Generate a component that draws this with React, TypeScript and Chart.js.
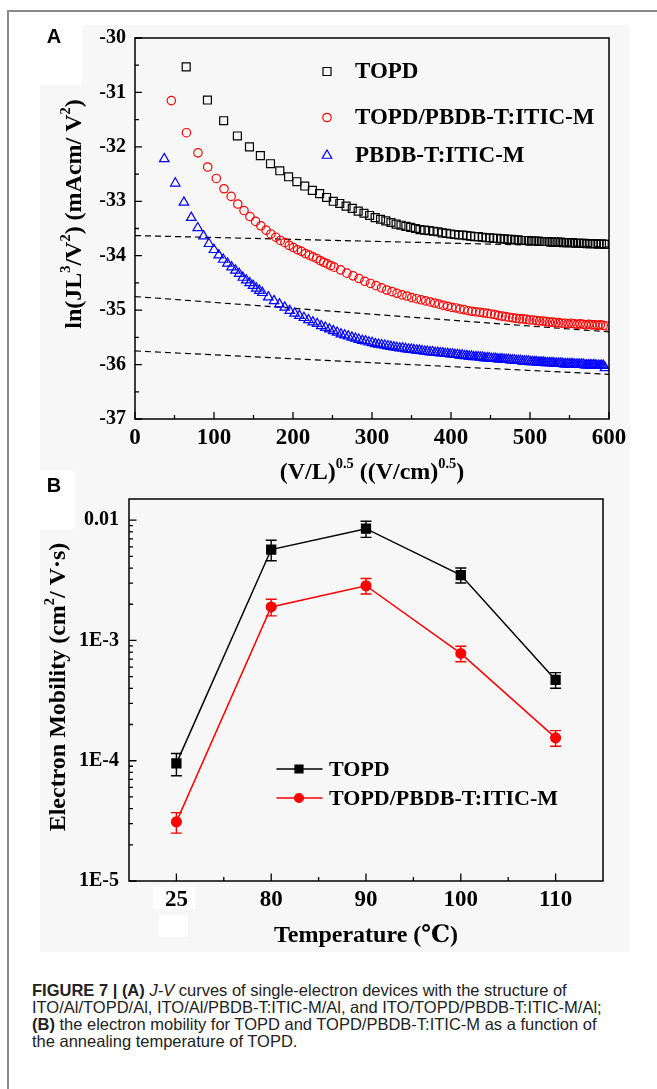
import React, { useEffect, useRef } from 'react';
import { Chart, registerables } from 'chart.js';

Chart.register(...registerables);

const SERIF = '"Liberation Serif", "Times New Roman", "DejaVu Serif", "Noto Sans CJK SC", serif';
const SANS = '"Liberation Sans", Arial, "DejaVu Sans", sans-serif';

// ---------- Panel A : J-V curves ----------
const jvXTicks = [0, 100, 200, 300, 400, 500, 600];
const jvYTicks = [-37, -36, -35, -34, -33, -32, -31, -30];
const jvLegend = ['TOPD', 'TOPD/PBDB-T:ITIC-M', 'PBDB-T:ITIC-M'];

const topdPoints = [
  [64.8, -30.53], [91.7, -31.14], [112.2, -31.52], [129.6, -31.8], [144.9, -32.0], [158.7, -32.16],
  [171.5, -32.31], [183.3, -32.44], [194.4, -32.55], [204.9, -32.64], [214.9, -32.72], [224.5, -32.8],
  [233.7, -32.86], [242.5, -32.93], [251.0, -33.0], [259.2, -33.04], [267.2, -33.09], [275.0, -33.13],
  [282.5, -33.18], [289.8, -33.22], [297.0, -33.26], [304.0, -33.3], [310.8, -33.33], [317.5, -33.36],
  [324.0, -33.39], [330.5, -33.42], [336.7, -33.44], [342.9, -33.46], [349.0, -33.48], [355.0, -33.5],
  [360.8, -33.52], [366.6, -33.53], [372.3, -33.54], [377.9, -33.55], [383.4, -33.56], [388.8, -33.58],
  [394.2, -33.59], [399.5, -33.6], [404.7, -33.61], [409.9, -33.62], [415.0, -33.62], [420.0, -33.63],
  [425.0, -33.64], [429.9, -33.65], [434.7, -33.65], [439.5, -33.66], [444.3, -33.67], [449.0, -33.67],
  [453.6, -33.68], [458.3, -33.68], [462.8, -33.69], [467.3, -33.69], [471.8, -33.7], [476.2, -33.7],
  [480.6, -33.71], [485.0, -33.71], [489.3, -33.72], [493.6, -33.72], [497.8, -33.72], [502.0, -33.73],
  [506.2, -33.73], [510.3, -33.73], [514.4, -33.74], [518.5, -33.74], [522.5, -33.74], [526.5, -33.75],
  [530.5, -33.75], [534.4, -33.75], [538.3, -33.75], [542.2, -33.76], [546.1, -33.76], [549.9, -33.76],
  [553.7, -33.76], [557.5, -33.77], [561.2, -33.77], [565.0, -33.77], [568.7, -33.77], [572.4, -33.78],
  [576.0, -33.78], [579.7, -33.78], [583.3, -33.78], [586.9, -33.79], [590.4, -33.78], [594.0, -33.79],
  [597.5, -33.79],
];

const blendPoints = [
  [46.0, -31.15], [65.1, -31.74], [79.7, -32.11], [92.0, -32.37], [102.9, -32.58], [112.7, -32.77],
  [121.7, -32.91], [130.1, -33.05], [138.0, -33.17], [145.5, -33.28], [152.6, -33.37], [159.3, -33.45],
  [165.9, -33.53], [172.1, -33.6], [178.2, -33.66], [184.0, -33.72], [189.7, -33.76], [195.2, -33.81],
  [200.5, -33.85], [205.7, -33.89], [210.8, -33.92], [215.8, -33.96], [220.6, -33.99], [225.4, -34.02],
  [230.0, -34.05], [234.6, -34.09], [239.0, -34.12], [243.4, -34.15], [247.7, -34.18], [252.0, -34.21],
  [260.2, -34.26], [268.2, -34.32], [276.0, -34.37], [283.6, -34.42], [290.9, -34.47], [298.1, -34.51],
  [305.1, -34.55], [312.0, -34.59], [318.7, -34.63], [325.3, -34.66], [331.7, -34.69], [338.0, -34.72],
  [344.2, -34.74], [350.3, -34.77], [356.3, -34.79], [362.2, -34.81], [368.0, -34.83], [373.7, -34.85],
  [379.3, -34.87], [384.9, -34.89], [390.3, -34.91], [395.7, -34.93], [401.0, -34.95], [406.3, -34.96],
  [411.4, -34.98], [416.5, -34.99], [421.6, -35.01], [426.6, -35.02], [431.5, -35.03], [436.4, -35.04],
  [441.2, -35.05], [446.0, -35.06], [450.7, -35.07], [455.4, -35.08], [460.0, -35.1], [464.6, -35.11],
  [469.1, -35.12], [473.6, -35.13], [478.0, -35.14], [482.5, -35.15], [486.8, -35.16], [491.1, -35.16],
  [495.4, -35.17], [499.7, -35.18], [503.9, -35.18], [508.1, -35.19], [512.2, -35.2], [516.4, -35.2],
  [520.4, -35.21], [524.5, -35.22], [528.5, -35.22], [532.5, -35.23], [536.4, -35.23], [540.4, -35.24],
  [544.3, -35.24], [548.2, -35.25], [552.0, -35.24], [555.8, -35.25], [559.6, -35.26], [563.4, -35.25],
  [567.1, -35.26], [570.8, -35.27], [574.5, -35.26], [578.2, -35.27], [581.9, -35.27], [585.5, -35.28],
  [589.1, -35.27], [592.7, -35.28], [596.2, -35.29],
];

const pbdbPoints = [
  [37.0, -32.22], [51.0, -32.67], [61.9, -33.02], [71.2, -33.3], [79.4, -33.49], [86.8, -33.64],
  [93.6, -33.78], [100.0, -33.89], [106.0, -33.99], [111.7, -34.07], [117.0, -34.14], [122.2, -34.21],
  [127.1, -34.27], [131.9, -34.33], [136.5, -34.4], [140.9, -34.45], [145.2, -34.5], [149.4, -34.55],
  [153.5, -34.6], [157.5, -34.64], [161.3, -34.68], [168.8, -34.76], [176.0, -34.83], [182.8, -34.89],
  [189.5, -34.95], [195.9, -35.01], [202.1, -35.06], [208.1, -35.1], [213.9, -35.14], [219.6, -35.18],
  [225.1, -35.22], [230.6, -35.25], [235.8, -35.29], [241.0, -35.32], [246.1, -35.35], [251.0, -35.38],
  [255.9, -35.41], [260.7, -35.44], [265.4, -35.46], [270.0, -35.48], [274.5, -35.5], [279.0, -35.52],
  [283.3, -35.54], [287.7, -35.56], [291.9, -35.57], [296.1, -35.59], [300.2, -35.6], [304.3, -35.62],
  [308.3, -35.63], [312.3, -35.64], [316.2, -35.65], [320.1, -35.66], [323.9, -35.67], [327.7, -35.68],
  [331.5, -35.69], [335.2, -35.7], [338.8, -35.7], [342.5, -35.71], [346.0, -35.72], [349.6, -35.72],
  [353.1, -35.73], [356.6, -35.74], [360.0, -35.74], [363.4, -35.75], [366.8, -35.76], [370.1, -35.76],
  [373.5, -35.77], [376.7, -35.77], [380.0, -35.78], [383.2, -35.78], [386.4, -35.79], [389.6, -35.79],
  [392.8, -35.8], [395.9, -35.8], [399.0, -35.81], [402.1, -35.81], [405.1, -35.82], [408.2, -35.82],
  [411.2, -35.83], [414.2, -35.83], [417.1, -35.84], [420.1, -35.84], [423.0, -35.85], [425.9, -35.85],
  [428.8, -35.86], [431.6, -35.86], [434.5, -35.86], [437.3, -35.87], [440.1, -35.87], [442.9, -35.88],
  [445.7, -35.88], [448.5, -35.88], [451.2, -35.89], [453.9, -35.89], [456.6, -35.89], [459.3, -35.9],
  [462.0, -35.9], [464.7, -35.9], [467.3, -35.91], [469.9, -35.91], [472.6, -35.91], [475.2, -35.92],
  [477.7, -35.92], [480.3, -35.92], [482.9, -35.93], [485.4, -35.93], [488.0, -35.93], [490.5, -35.94],
  [493.0, -35.94], [495.5, -35.94], [498.0, -35.94], [500.4, -35.95], [502.9, -35.95], [505.3, -35.95],
  [507.8, -35.95], [510.2, -35.96], [512.6, -35.96], [515.0, -35.96], [517.4, -35.96], [519.8, -35.97],
  [522.1, -35.97], [524.5, -35.97], [526.8, -35.97], [529.2, -35.97], [531.5, -35.98], [533.8, -35.98],
  [536.1, -35.98], [538.4, -35.98], [540.7, -35.98], [543.0, -35.99], [545.2, -35.99], [547.5, -35.99],
  [549.7, -35.99], [552.0, -35.99], [554.2, -35.99], [556.4, -36.0], [558.6, -36.0], [560.8, -36.0],
  [563.0, -36.0], [565.2, -36.0], [567.4, -36.0], [569.6, -36.01], [571.7, -36.01], [573.9, -36.01],
  [576.0, -36.01], [578.2, -36.01], [580.3, -36.01], [582.4, -36.01], [584.5, -36.02], [586.6, -36.02],
  [588.7, -36.02], [590.8, -36.02], [592.9, -36.02], [595.0, -36.06],
];

const fitTopd = [[0, -33.63], [600, -33.84]];
const fitBlend = [[0, -34.75], [600, -35.4]];
const fitPbdb = [[0, -35.75], [600, -36.18]];

// ---------- Panel B : electron mobility ----------
const temps = ['25', '80', '90', '100', '110'];
const topdMobility = [9.5e-5, 5.7e-3, 8.5e-3, 3.5e-3, 4.7e-4];
const topdMobilityErr = [2.0e-5, 1.1e-3, 1.3e-3, 5.0e-4, 7.0e-5];
const blendMobility = [3.1e-5, 1.9e-3, 2.85e-3, 7.8e-4, 1.55e-4];
const blendMobilityErr = [6e-6, 3.0e-4, 4.2e-4, 1.15e-4, 2.3e-5];
const mobilityTicks = [1e-5, 1e-4, 1e-3, 1e-2];
const mobilityTickLabels = ['1E-5', '1E-4', '1E-3', '0.01'];
const mobilityLegend = ['TOPD', 'TOPD/PBDB-T:ITIC-M'];

// ---------- helpers ----------
type Part = { t: string; sup?: boolean };

function drawRich(ctx: CanvasRenderingContext2D, parts: Part[], cx: number, cy: number, size: number, rotate: boolean) {
  ctx.save();
  ctx.translate(cx, cy);
  if (rotate) ctx.rotate(-Math.PI / 2);
  const font = (s: number) => `bold ${s}px ${SERIF}`;
  let total = 0;
  for (const p of parts) {
    ctx.font = font(p.sup ? size * 0.6 : size);
    total += ctx.measureText(p.t).width;
  }
  let x = -total / 2;
  ctx.textBaseline = 'middle';
  ctx.textAlign = 'left';
  ctx.fillStyle = '#000';
  for (const p of parts) {
    const s = p.sup ? size * 0.6 : size;
    ctx.font = font(s);
    ctx.fillText(p.t, x, p.sup ? -size * 0.36 : 0);
    x += ctx.measureText(p.t).width;
  }
  ctx.restore();
}

function drawMarker(ctx: CanvasRenderingContext2D, kind: string, x: number, y: number, color: string, filled: boolean, r: number) {
  ctx.save();
  ctx.strokeStyle = color;
  ctx.fillStyle = color;
  ctx.lineWidth = 1.2;
  ctx.beginPath();
  if (kind === 'rect') {
    ctx.rect(x - r, y - r, 2 * r, 2 * r);
  } else if (kind === 'circle') {
    ctx.arc(x, y, r, 0, Math.PI * 2);
  } else {
    ctx.moveTo(x, y - r);
    ctx.lineTo(x + r * 0.866, y + r * 0.5);
    ctx.lineTo(x - r * 0.866, y + r * 0.5);
    ctx.closePath();
  }
  if (filled) ctx.fill();
  ctx.stroke();
  ctx.restore();
}

const toXY = (pts: number[][]) => pts.map(([x, y]) => ({ x, y }));

const xTitleA: Part[] = [{ t: '(V/L)' }, { t: '0.5', sup: true }, { t: ' ((V/cm)' }, { t: '0.5', sup: true }, { t: ')' }];
const yTitleA: Part[] = [{ t: 'ln(JL' }, { t: '3', sup: true }, { t: '/V' }, { t: '2', sup: true }, { t: ') (mAcm/ V' }, { t: '2', sup: true }, { t: ')' }];
const xTitleB: Part[] = [{ t: 'Temperature (\u2103)' }];
const yTitleB: Part[] = [{ t: 'Electron Mobility (cm' }, { t: '2', sup: true }, { t: '/ V\u00b7s)' }];

const panelAPlugin = {
  id: 'panelA',
  afterDraw(chart: any) {
    const { ctx, chartArea: a } = chart;
    const xs = chart.scales.x;
    const ys = chart.scales.y;
    ctx.save();
    ctx.strokeStyle = '#000';
    ctx.lineWidth = 1.5;
    ctx.strokeRect(a.left, a.top, a.right - a.left, a.bottom - a.top);
    ctx.lineWidth = 1.3;
    ctx.beginPath();
    jvXTicks.forEach((v, i) => {
      const px = xs.getPixelForValue(v);
      ctx.moveTo(px, a.bottom);
      ctx.lineTo(px, a.bottom - 7);
      if (i < jvXTicks.length - 1) {
        const mx = xs.getPixelForValue((v + jvXTicks[i + 1]) / 2);
        ctx.moveTo(mx, a.bottom);
        ctx.lineTo(mx, a.bottom - 4);
      }
    });
    jvYTicks.forEach((v, i) => {
      const py = ys.getPixelForValue(v);
      ctx.moveTo(a.left, py);
      ctx.lineTo(a.left + 7, py);
      if (i < jvYTicks.length - 1) {
        const my = ys.getPixelForValue((v + jvYTicks[i + 1]) / 2);
        ctx.moveTo(a.left, my);
        ctx.lineTo(a.left + 4, my);
      }
    });
    ctx.stroke();

    // legend
    const lx = a.left + 192;
    const rows = [a.top + 33.5, a.top + 79.5, a.top + 117.5];
    drawMarker(ctx, 'rect', lx, rows[0], '#000', false, 4);
    drawMarker(ctx, 'circle', lx, rows[1], '#ff0000', false, 4.2);
    drawMarker(ctx, 'triangle', lx, rows[2], '#0000ff', false, 5.5);
    ctx.font = `bold 23px ${SERIF}`;
    ctx.fillStyle = '#000';
    ctx.textAlign = 'left';
    ctx.textBaseline = 'middle';
    jvLegend.forEach((t, i) => ctx.fillText(t, a.left + 220, rows[i] + 1));

    drawRich(ctx, xTitleA, (a.left + a.right) / 2, 473, 24, false);
    drawRich(ctx, yTitleA, 75, 214, 24, true);

    ctx.font = `bold 20px ${SANS}`;
    ctx.textAlign = 'center';
    ctx.textBaseline = 'middle';
    ctx.fillStyle = '#000';
    ctx.fillText('A', 54, 37);
    ctx.restore();
  },
};

const panelBPlugin = {
  id: 'panelB',
  beforeDatasetsDraw(chart: any) {
    const { ctx } = chart;
    const xs = chart.scales.x;
    const ys = chart.scales.y;
    const sets = [
      { v: topdMobility, e: topdMobilityErr, c: '#000' },
      { v: blendMobility, e: blendMobilityErr, c: '#ff0000' },
    ];
    ctx.save();
    ctx.lineWidth = 1.4;
    for (const s of sets) {
      ctx.strokeStyle = s.c;
      ctx.beginPath();
      s.v.forEach((v, i) => {
        const px = xs.getPixelForValue(i);
        const y1 = ys.getPixelForValue(v + s.e[i]);
        const y2 = ys.getPixelForValue(v - s.e[i]);
        ctx.moveTo(px, y1);
        ctx.lineTo(px, y2);
        ctx.moveTo(px - 5.5, y1);
        ctx.lineTo(px + 5.5, y1);
        ctx.moveTo(px - 5.5, y2);
        ctx.lineTo(px + 5.5, y2);
      });
      ctx.stroke();
    }
    ctx.restore();
  },
  afterDraw(chart: any) {
    const { ctx, chartArea: a } = chart;
    const xs = chart.scales.x;
    const ys = chart.scales.y;
    ctx.save();
    ctx.strokeStyle = '#000';
    ctx.lineWidth = 1.5;
    ctx.strokeRect(a.left, a.top, a.right - a.left, a.bottom - a.top);
    ctx.lineWidth = 1.3;
    ctx.beginPath();
    temps.forEach((_, i) => {
      const px = xs.getPixelForValue(i);
      ctx.moveTo(px, a.bottom);
      ctx.lineTo(px, a.bottom - 7.5);
      if (i < temps.length - 1) {
        const mx = xs.getPixelForValue(i + 0.5);
        ctx.moveTo(mx, a.bottom);
        ctx.lineTo(mx, a.bottom - 4);
      }
    });
    mobilityTicks.forEach((d) => {
      const py = ys.getPixelForValue(d);
      ctx.moveTo(a.left, py);
      ctx.lineTo(a.left + 7.5, py);
      for (let m = 2; m <= 9; m++) {
        const v = d * m;
        if (v > ys.max) break;
        const my = ys.getPixelForValue(v);
        ctx.moveTo(a.left, my);
        ctx.lineTo(a.left + 4, my);
      }
    });
    ctx.stroke();

    // legend
    const rows = [a.top + 270, a.top + 299];
    const colors = ['#000', '#ff0000'];
    rows.forEach((ry, i) => {
      ctx.strokeStyle = colors[i];
      ctx.lineWidth = 1.5;
      ctx.beginPath();
      ctx.moveTo(a.left + 147.5, ry);
      ctx.lineTo(a.left + 193.5, ry);
      ctx.stroke();
    });
    drawMarker(ctx, 'rect', a.left + 170, rows[0], '#000', true, 4);
    drawMarker(ctx, 'circle', a.left + 170, rows[1], '#ff0000', true, 4.5);
    ctx.font = `bold 22px ${SERIF}`;
    ctx.fillStyle = '#000';
    ctx.textAlign = 'left';
    ctx.textBaseline = 'middle';
    mobilityLegend.forEach((t, i) => ctx.fillText(t, a.left + 200, rows[i] + 1));

    drawRich(ctx, xTitleB, (a.left + a.right) / 2, 466, 24, false);
    drawRich(ctx, yTitleB, 59, 217, 24, true);

    ctx.font = `bold 20px ${SANS}`;
    ctx.textAlign = 'center';
    ctx.textBaseline = 'middle';
    ctx.fillStyle = '#000';
    ctx.fillText('B', 54, 16);
    ctx.restore();
  },
};

const tickFont = (size: number) => ({ family: SERIF, size, weight: 'bold' as const });

export default function App() {
  const refA = useRef<HTMLCanvasElement>(null);
  const refB = useRef<HTMLCanvasElement>(null);

  useEffect(() => {
    const marker = (color: string) => ({
      pointBorderColor: color,
      pointBackgroundColor: 'rgba(0,0,0,0)',
      pointBorderWidth: 1.2,
      showLine: false,
    });
    const dashed = (pts: number[][]) => ({
      type: 'line' as const,
      data: toXY(pts),
      borderColor: '#000',
      borderWidth: 1.2,
      borderDash: [6, 4],
      pointRadius: 0,
      fill: false,
      tension: 0,
    });

    const chartA = new Chart(refA.current as HTMLCanvasElement, {
      type: 'scatter',
      data: {
        datasets: [
          { label: jvLegend[0], data: toXY(topdPoints), pointStyle: 'rect', pointRadius: 5.6, ...marker('#000') },
          { label: jvLegend[1], data: toXY(blendPoints), pointStyle: 'circle', pointRadius: 4.2, ...marker('#ff0000') },
          { label: jvLegend[2], data: toXY(pbdbPoints), pointStyle: 'triangle', pointRadius: 5.5, ...marker('#0000ff') },
          dashed(fitTopd) as any,
          dashed(fitBlend) as any,
          dashed(fitPbdb) as any,
        ],
      },
      options: {
        responsive: false,
        animation: false,
        devicePixelRatio: 1,
        events: [],
        layout: { padding: { top: 38, right: 48, left: 0, bottom: 0 } },
        plugins: { legend: { display: false }, tooltip: { enabled: false } },
        scales: {
          x: {
            type: 'linear',
            min: 0,
            max: 600,
            grid: { display: false, drawTicks: false },
            border: { display: false },
            ticks: { font: tickFont(23), color: '#000', padding: 5, maxRotation: 0, autoSkip: false },
            afterBuildTicks: (s: any) => { s.ticks = jvXTicks.map((v) => ({ value: v })); },
            afterFit: (s: any) => { s.height = 71; },
          },
          y: {
            type: 'linear',
            min: -37,
            max: -30,
            grid: { display: false, drawTicks: false },
            border: { display: false },
            ticks: { font: tickFont(20), color: '#000', padding: 9, autoSkip: false },
            afterBuildTicks: (s: any) => { s.ticks = jvYTicks.map((v) => ({ value: v })); },
            afterFit: (s: any) => { s.width = 135; },
          },
        },
      } as any,
      plugins: [panelAPlugin],
    });

    const chartB = new Chart(refB.current as HTMLCanvasElement, {
      type: 'line',
      data: {
        datasets: [
          {
            label: mobilityLegend[0],
            data: topdMobility.map((v, i) => ({ x: i, y: v })),
            borderColor: '#000',
            borderWidth: 1.5,
            pointStyle: 'rect',
            pointRadius: 6.2,
            pointBackgroundColor: '#000',
            pointBorderColor: '#000',
            tension: 0,
          },
          {
            label: mobilityLegend[1],
            data: blendMobility.map((v, i) => ({ x: i, y: v })),
            borderColor: '#ff0000',
            borderWidth: 1.5,
            pointStyle: 'circle',
            pointRadius: 4.8,
            pointBackgroundColor: '#ff0000',
            pointBorderColor: '#ff0000',
            tension: 0,
          },
        ],
      },
      options: {
        responsive: false,
        animation: false,
        devicePixelRatio: 1,
        events: [],
        layout: { padding: { top: 29, right: 54, left: 0, bottom: 0 } },
        plugins: { legend: { display: false }, tooltip: { enabled: false } },
        scales: {
          x: {
            type: 'linear',
            min: -0.5,
            max: 4.5,
            grid: { display: false, drawTicks: false },
            border: { display: false },
            ticks: {
              font: tickFont(23),
              color: '#000',
              padding: 5,
              maxRotation: 0,
              autoSkip: false,
              callback: (_v: any, i: number) => temps[i],
            },
            afterBuildTicks: (s: any) => { s.ticks = temps.map((_, i) => ({ value: i })); },
            afterFit: (s: any) => { s.height = 79; },
          },
          y: {
            type: 'logarithmic',
            min: 1e-5,
            max: 0.015,
            grid: { display: false, drawTicks: false },
            border: { display: false },
            ticks: {
              font: tickFont(20),
              color: '#000',
              padding: 10,
              autoSkip: false,
              callback: (_v: any, i: number) => mobilityTickLabels[i],
            },
            afterBuildTicks: (s: any) => { s.ticks = mobilityTicks.map((v) => ({ value: v })); },
            afterFit: (s: any) => { s.width = 129; },
          },
        },
      } as any,
      plugins: [panelBPlugin],
    });

    return () => {
      chartA.destroy();
      chartB.destroy();
    };
  }, []);

  return (
    <div style={{ position: 'absolute', left: 0, top: 0, width: 657, height: 1089, background: '#fff', overflow: 'hidden' }}>
      <div style={{ position: 'absolute', left: 7, top: 10, width: 700, height: 1100, borderTop: '2px solid #8a8a8a', borderLeft: '2px solid #8a8a8a' }} />
      <div style={{ position: 'absolute', left: 40, top: 25, width: 590, height: 927, background: '#f7f7f7' }} />
      <div style={{ position: 'absolute', left: 40, top: 25, width: 42, height: 60, background: '#fff' }} />
      <div style={{ position: 'absolute', left: 40, top: 470, width: 35, height: 60, background: '#fff' }} />
      <div style={{ position: 'absolute', left: 153, top: 887, width: 42, height: 22, background: '#fff' }} />
      <div style={{ position: 'absolute', left: 159, top: 915, width: 29, height: 22, background: '#fff' }} />
      <canvas ref={refA} width={657} height={490} style={{ position: 'absolute', left: 0, top: 0 }} />
      <canvas ref={refB} width={657} height={490} style={{ position: 'absolute', left: 0, top: 470 }} />
      <div
        style={{
          position: 'absolute',
          left: 32,
          top: 982,
          width: 625,
          fontFamily: SANS,
          fontSize: 16.5,
          lineHeight: '17px',
          color: '#222',
          whiteSpace: 'nowrap',
        }}
      >
        <b>FIGURE 7 | (A)</b> <i>J-V</i> curves of single-electron devices with the structure of
        <br />
        ITO/Al/TOPD/Al, ITO/Al/PBDB-T:ITIC-M/Al, and ITO/TOPD/PBDB-T:ITIC-M/Al;
        <br />
        <b>(B)</b> the electron mobility for TOPD and TOPD/PBDB-T:ITIC-M as a function of
        <br />
        the annealing temperature of TOPD.
      </div>
    </div>
  );
}
